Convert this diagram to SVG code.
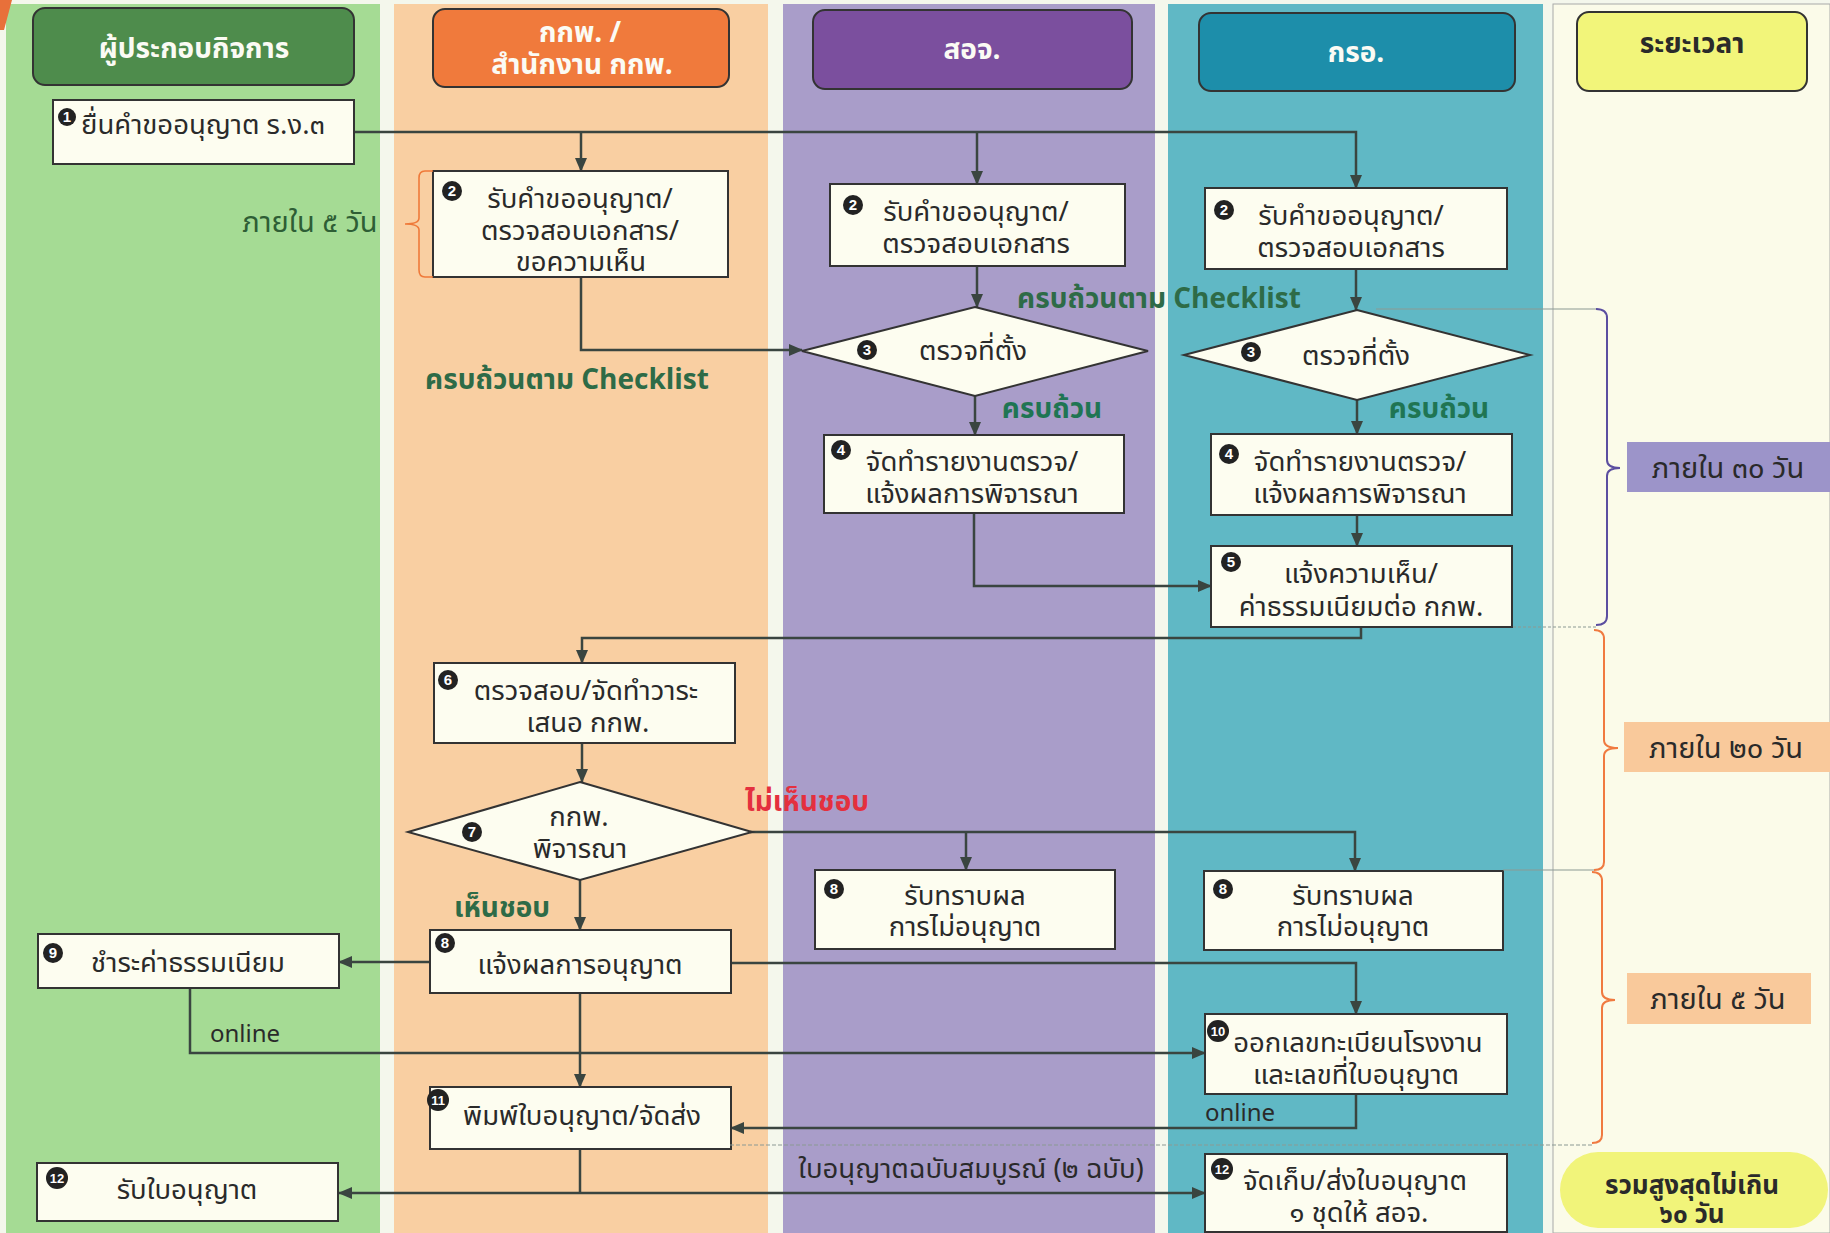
<svg xmlns="http://www.w3.org/2000/svg" width="1830" height="1233" viewBox="0 0 1830 1233">
<defs>
<marker id="arr" viewBox="0 0 14 12" refX="13" refY="6" markerWidth="14" markerHeight="12" markerUnits="userSpaceOnUse" orient="auto">
<path d="M0,0 L14,6 L0,12 Z" fill="#3a4540"/>
</marker>
<style>
.t{font-family:"Noto Sans Thai","Noto Sans","DejaVu Sans",sans-serif;font-size:27.5px;fill:#2a2a2a;text-anchor:middle}
.h{font-family:"Noto Sans Thai","Noto Sans","DejaVu Sans",sans-serif;font-size:28px;font-weight:bold;fill:#fbfbf4;text-anchor:middle}
.lbl{font-family:"Noto Sans Thai","Noto Sans","DejaVu Sans",sans-serif;font-size:28px;font-weight:bold;fill:#2e6b47;text-anchor:middle}
.tl{font-family:"Noto Sans Thai","Noto Sans","DejaVu Sans",sans-serif;font-size:29px;fill:#2a2a2a;text-anchor:middle}
.on{font-family:"Noto Sans","DejaVu Sans",sans-serif;font-size:24px;fill:#2a2a2a;text-anchor:middle}
.box{fill:#fdfdf0;stroke:#333;stroke-width:2}
.hd{stroke:#333;stroke-width:2}
.num circle{fill:#222}
.num text{font-family:"Liberation Sans",sans-serif;font-size:15px;font-weight:bold;fill:#fff;text-anchor:middle}
.num2 text{font-size:13px}
.c{fill:none;stroke:#3a4540;stroke-width:2.5}
.ca{fill:none;stroke:#3a4540;stroke-width:2.5;marker-end:url(#arr)}
.thin{fill:none;stroke:#8c9a94;stroke-width:1.2}
</style>
</defs>
<rect x="0" y="0" width="1830" height="1233" fill="#f4f7ec"/>
<g id="lanes">
<rect x="6" y="4" width="374" height="1229" fill="#a5db94"/>
<polygon points="0,0 12,0 4,30 0,30" fill="#e8703a"/>
<rect x="394" y="4" width="374" height="1229" fill="#f9cfa2"/>
<rect x="783" y="4" width="372" height="1229" fill="#a99dc9"/>
<rect x="1168" y="4" width="375" height="1229" fill="#60b8c5"/>
<rect x="1553" y="4" width="277" height="1229" fill="#fbfbe9" stroke="#a8aaa8" stroke-width="1"/>
</g>
<g id="headers">
<g id="h-operator"><rect class="hd" x="33" y="8" width="321" height="77" rx="12" fill="#4e8c4c"/><text class="h" x="194" y="58">ผู้ประกอบกิจการ</text></g>
<g id="h-erc"><rect class="hd" x="433" y="9" width="296" height="78" rx="12" fill="#f07a3c"/><text class="h"><tspan x="580" y="42">กกพ. /</tspan><tspan x="582" y="74">สำนักงาน กกพ.</tspan></text></g>
<g id="h-soj"><rect class="hd" x="813" y="10" width="319" height="79" rx="12" fill="#7b4f9e"/><text class="h" x="972" y="59">สอจ.</text></g>
<g id="h-gro"><rect class="hd" x="1199" y="13" width="316" height="78" rx="12" fill="#1d8eaa"/><text class="h" x="1356" y="62">กรอ.</text></g>
<g id="h-time"><rect class="hd" x="1577" y="12" width="230" height="79" rx="12" fill="#f2f57a"/><text class="h" x="1692" y="53" style="fill:#2a2a2a">ระยะเวลา</text></g>
</g>
<g id="connectors">
<path class="ca" d="M354,132 H1356 V188"/>
<path class="ca" d="M581,132 V171"/>
<path class="ca" d="M977,132 V184"/>
<path class="ca" d="M581,277 V350 H802"/>
<path class="ca" d="M977,266 V307"/>
<path class="ca" d="M1356,269 V310"/>
<path class="ca" d="M975,396 V435"/>
<path class="ca" d="M1357,400 V434"/>
<path class="ca" d="M1357,515 V546"/>
<path class="ca" d="M974,513 V586 H1211"/>
<path class="ca" d="M1361,627 V638 H582 V663"/>
<path class="ca" d="M582,743 V782"/>
<path class="ca" d="M750,832 H1355 V871"/>
<path class="ca" d="M966,832 V870"/>
<path class="ca" d="M580,880 V930"/>
<path class="ca" d="M430,962 H339"/>
<path class="ca" d="M731,963 H1356 V1014"/>
<path class="ca" d="M190,988 V1053 H1205"/>
<path class="ca" d="M580,993 V1087"/>
<path class="ca" d="M1356,1094 V1128 H731"/>
<path class="c" d="M580,1149 V1193"/>
<path class="ca" d="M580,1193 H339"/>
<path class="ca" d="M580,1193 H1205"/>
</g>
<g id="n1"><rect class="box" x="53" y="100" width="301" height="64"/><text class="t" x="203" y="134">ยื่นคำขออนุญาต ร.ง.๓</text><g class="num"><circle cx="67" cy="117" r="9"/><text x="67" y="122">1</text></g></g>
<g id="n2-erc"><rect class="box" x="433" y="171" width="295" height="106"/><text class="t"><tspan x="580" y="208">รับคำขออนุญาต/</tspan><tspan x="580" y="240">ตรวจสอบเอกสาร/</tspan><tspan x="581" y="271">ขอความเห็น</tspan></text><g class="num"><circle cx="452" cy="191" r="10"/><text x="452" y="196">2</text></g></g>
<g id="n2-soj"><rect class="box" x="830" y="184" width="295" height="82"/><text class="t"><tspan x="976" y="221">รับคำขออนุญาต/</tspan><tspan x="976" y="253">ตรวจสอบเอกสาร</tspan></text><g class="num"><circle cx="853" cy="205" r="10"/><text x="853" y="210">2</text></g></g>
<g id="n2-gro"><rect class="box" x="1205" y="188" width="302" height="81"/><text class="t"><tspan x="1351" y="225">รับคำขออนุญาต/</tspan><tspan x="1351" y="257">ตรวจสอบเอกสาร</tspan></text><g class="num"><circle cx="1224" cy="210" r="10"/><text x="1224" y="215">2</text></g></g>
<g id="n3-soj"><polygon class="box" points="975,307 1148,351 975,396 802,351"/><text class="t" x="973" y="360">ตรวจที่ตั้ง</text><g class="num"><circle cx="867" cy="350" r="10"/><text x="867" y="355">3</text></g></g>
<g id="n3-gro"><polygon class="box" points="1357,310 1530,355 1357,400 1184,355"/><text class="t" x="1356" y="365">ตรวจที่ตั้ง</text><g class="num"><circle cx="1251" cy="352" r="10"/><text x="1251" y="357">3</text></g></g>
<g id="n4-soj"><rect class="box" x="824" y="435" width="300" height="78"/><text class="t"><tspan x="972" y="471">จัดทำรายงานตรวจ/</tspan><tspan x="972" y="503">แจ้งผลการพิจารณา</tspan></text><g class="num"><circle cx="841" cy="450" r="10"/><text x="841" y="455">4</text></g></g>
<g id="n4-gro"><rect class="box" x="1211" y="434" width="301" height="81"/><text class="t"><tspan x="1360" y="471">จัดทำรายงานตรวจ/</tspan><tspan x="1360" y="503">แจ้งผลการพิจารณา</tspan></text><g class="num"><circle cx="1229" cy="454" r="10"/><text x="1229" y="459">4</text></g></g>
<g id="n5"><rect class="box" x="1211" y="546" width="301" height="81"/><text class="t"><tspan x="1361" y="583">แจ้งความเห็น/</tspan><tspan x="1361" y="616">ค่าธรรมเนียมต่อ กกพ.</tspan></text><g class="num"><circle cx="1231" cy="562" r="10"/><text x="1231" y="567">5</text></g></g>
<g id="n6"><rect class="box" x="434" y="663" width="301" height="80"/><text class="t"><tspan x="586" y="700">ตรวจสอบ/จัดทำวาระ</tspan><tspan x="588" y="732">เสนอ กกพ.</tspan></text><g class="num"><circle cx="448" cy="680" r="10"/><text x="448" y="685">6</text></g></g>
<g id="n7"><polygon class="box" points="580,782 752,832 580,880 408,832"/><text class="t"><tspan x="579" y="826">กกพ.</tspan><tspan x="580" y="858">พิจารณา</tspan></text><g class="num"><circle cx="472" cy="832" r="10"/><text x="472" y="837">7</text></g></g>
<g id="n8-erc"><rect class="box" x="430" y="930" width="301" height="63"/><text class="t" x="580" y="974">แจ้งผลการอนุญาต</text><g class="num"><circle cx="445" cy="943" r="10"/><text x="445" y="948">8</text></g></g>
<g id="n8-soj"><rect class="box" x="815" y="870" width="300" height="79"/><text class="t"><tspan x="965" y="905">รับทราบผล</tspan><tspan x="965" y="936">การไม่อนุญาต</tspan></text><g class="num"><circle cx="834" cy="889" r="10"/><text x="834" y="894">8</text></g></g>
<g id="n8-gro"><rect class="box" x="1204" y="871" width="299" height="79"/><text class="t"><tspan x="1353" y="905">รับทราบผล</tspan><tspan x="1353" y="936">การไม่อนุญาต</tspan></text><g class="num"><circle cx="1223" cy="889" r="10"/><text x="1223" y="894">8</text></g></g>
<g id="n9"><rect class="box" x="38" y="934" width="301" height="54"/><text class="t" x="188" y="972">ชำระค่าธรรมเนียม</text><g class="num"><circle cx="53" cy="953" r="10"/><text x="53" y="958">9</text></g></g>
<g id="n10"><rect class="box" x="1205" y="1014" width="302" height="80"/><text class="t"><tspan x="1358" y="1052">ออกเลขทะเบียนโรงงาน</tspan><tspan x="1356" y="1084">และเลขที่ใบอนุญาต</tspan></text><g class="num num2"><circle cx="1218" cy="1031" r="11"/><text x="1218" y="1036">10</text></g></g>
<g id="n11"><rect class="box" x="430" y="1087" width="301" height="62"/><text class="t" x="582" y="1125">พิมพ์ใบอนุญาต/จัดส่ง</text><g class="num num2"><circle cx="438" cy="1100" r="11"/><text x="438" y="1105">11</text></g></g>
<g id="n12-op"><rect class="box" x="37" y="1163" width="301" height="58"/><text class="t" x="187" y="1199">รับใบอนุญาต</text><g class="num num2"><circle cx="57" cy="1178" r="11"/><text x="57" y="1183">12</text></g></g>
<g id="n12-gro"><rect class="box" x="1205" y="1154" width="302" height="78"/><text class="t"><tspan x="1355" y="1190">จัดเก็บ/ส่งใบอนุญาต</tspan><tspan x="1359" y="1222">๑ ชุดให้ สอจ.</tspan></text><g class="num num2"><circle cx="1222" cy="1169" r="11"/><text x="1222" y="1174">12</text></g></g>
<g id="labels">
<path d="M433,171 H425 Q419,171 419,178 V218 Q419,224 405,224 Q419,224 419,230 V270 Q419,277 425,277 H433" fill="none" stroke="#ef7a3a" stroke-width="1.6"/>
<text class="tl" x="310" y="232" style="fill:#2e5e35">ภายใน ๕ วัน</text>
<text class="lbl" x="567" y="389">ครบถ้วนตาม Checklist</text>
<text class="lbl" x="1159" y="308">ครบถ้วนตาม Checklist</text>
<text class="lbl" x="1052" y="418" style="fill:#1f7553">ครบถ้วน</text>
<text class="lbl" x="1439" y="418" style="fill:#1f7553">ครบถ้วน</text>
<text class="lbl" x="807" y="811" style="fill:#e4303e">ไม่เห็นชอบ</text>
<text class="lbl" x="502" y="917">เห็นชอบ</text>
<text class="on" x="245" y="1042">online</text>
<text class="on" x="1240" y="1121">online</text>
<text class="t" x="971" y="1178">ใบอนุญาตฉบับสมบูรณ์ (๒ ฉบับ)</text>
</g>
<g id="timeline">
<path class="thin" d="M1376,309 H1598"/>
<path d="M1596,309 Q1607,309 1607,318 V460 Q1607,468 1620,468 Q1607,468 1607,476 V616 Q1607,625 1596,625" fill="none" stroke="#5b4ea0" stroke-width="2"/>
<path class="thin" d="M1513,627 H1596" stroke-dasharray="3,2"/>
<path d="M1594,630 Q1604,630 1604,639 V740 Q1604,748 1618,748 Q1604,748 1604,756 V862 Q1604,870 1594,870" fill="none" stroke="#f07a40" stroke-width="2"/>
<path class="thin" d="M1503,870 H1594"/>
<path d="M1592,872 Q1602,872 1602,881 V992 Q1602,1000 1615,1000 Q1602,1000 1602,1008 V1135 Q1602,1143 1592,1143" fill="none" stroke="#f07a40" stroke-width="2"/>
<path class="thin" d="M730,1145 H1592" stroke-dasharray="4,2"/>
<g id="t30"><rect x="1627" y="442" width="203" height="50" fill="#9c94c9"/><text class="tl" x="1728" y="478">ภายใน ๓๐ วัน</text></g>
<g id="t20"><rect x="1624" y="722" width="206" height="50" fill="#f9c99b"/><text class="tl" x="1726" y="758">ภายใน ๒๐ วัน</text></g>
<g id="t5"><rect x="1627" y="973" width="184" height="51" fill="#f9c99b"/><text class="tl" x="1718" y="1009">ภายใน ๕ วัน</text></g>
<g id="total"><rect x="1560" y="1152" width="268" height="76" rx="38" fill="#f1f47a"/><text class="t" style="font-weight:bold;font-size:26px"><tspan x="1692" y="1194">รวมสูงสุดไม่เกิน</tspan><tspan x="1692" y="1223">๖๐ วัน</tspan></text></g>
</g>
</svg>
